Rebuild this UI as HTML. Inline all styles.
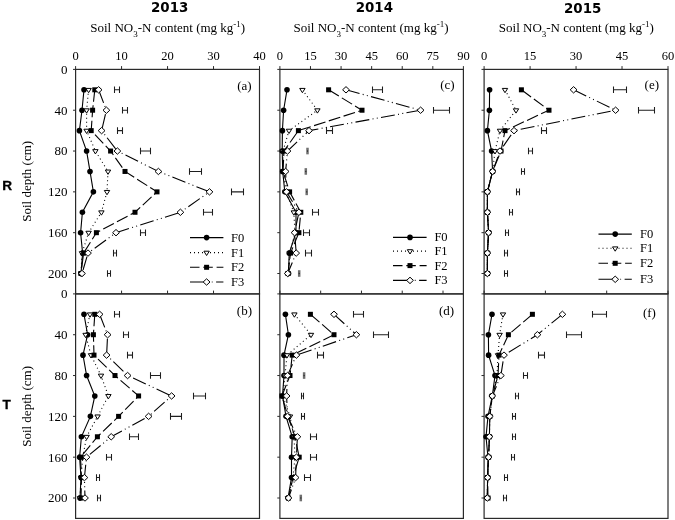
<!DOCTYPE html><html><head><meta charset="utf-8"><style>html,body{margin:0;padding:0;background:#fff;width:675px;height:520px;overflow:hidden}svg{display:block}</style></head><body>
<svg width="675" height="520" viewBox="0 0 675 520">
<rect width="675" height="520" fill="#fff"/>
<g><rect x="75.6" y="69.4" width="183.90" height="224.50" fill="none" stroke="#2a2a2a" stroke-width="1.2"/><line x1="75.60" y1="69.4" x2="75.60" y2="66.10" stroke="#2a2a2a" stroke-width="1"/><text x="75.60" y="60" font-family='"Liberation Serif", "Times New Roman", serif' font-size="12.5" text-anchor="middle">0</text><line x1="121.57" y1="69.4" x2="121.57" y2="66.10" stroke="#2a2a2a" stroke-width="1"/><text x="121.57" y="60" font-family='"Liberation Serif", "Times New Roman", serif' font-size="12.5" text-anchor="middle">10</text><line x1="167.55" y1="69.4" x2="167.55" y2="66.10" stroke="#2a2a2a" stroke-width="1"/><text x="167.55" y="60" font-family='"Liberation Serif", "Times New Roman", serif' font-size="12.5" text-anchor="middle">20</text><line x1="213.53" y1="69.4" x2="213.53" y2="66.10" stroke="#2a2a2a" stroke-width="1"/><text x="213.53" y="60" font-family='"Liberation Serif", "Times New Roman", serif' font-size="12.5" text-anchor="middle">30</text><line x1="259.50" y1="69.4" x2="259.50" y2="66.10" stroke="#2a2a2a" stroke-width="1"/><text x="259.50" y="60" font-family='"Liberation Serif", "Times New Roman", serif' font-size="12.5" text-anchor="middle">40</text><line x1="75.6" y1="69.40" x2="73.00" y2="69.40" stroke="#2a2a2a" stroke-width="1"/><text x="67.6" y="73.80" font-family='"Liberation Serif", "Times New Roman", serif' font-size="13" text-anchor="end">0</text><line x1="75.6" y1="110.22" x2="73.00" y2="110.22" stroke="#2a2a2a" stroke-width="1"/><text x="67.6" y="114.62" font-family='"Liberation Serif", "Times New Roman", serif' font-size="13" text-anchor="end">40</text><line x1="75.6" y1="151.04" x2="73.00" y2="151.04" stroke="#2a2a2a" stroke-width="1"/><text x="67.6" y="155.44" font-family='"Liberation Serif", "Times New Roman", serif' font-size="13" text-anchor="end">80</text><line x1="75.6" y1="191.86" x2="73.00" y2="191.86" stroke="#2a2a2a" stroke-width="1"/><text x="67.6" y="196.26" font-family='"Liberation Serif", "Times New Roman", serif' font-size="13" text-anchor="end">120</text><line x1="75.6" y1="232.68" x2="73.00" y2="232.68" stroke="#2a2a2a" stroke-width="1"/><text x="67.6" y="237.08" font-family='"Liberation Serif", "Times New Roman", serif' font-size="13" text-anchor="end">160</text><line x1="75.6" y1="273.50" x2="73.00" y2="273.50" stroke="#2a2a2a" stroke-width="1"/><text x="67.6" y="277.90" font-family='"Liberation Serif", "Times New Roman", serif' font-size="13" text-anchor="end">200</text><path d="M114.50,86.51V93.11M119.50,86.51V93.11M114.50,89.81H119.50" stroke="#1e1e1e" stroke-width="1.05" fill="none"/><path d="M122.50,106.92V113.52M127.50,106.92V113.52M122.50,110.22H127.50" stroke="#1e1e1e" stroke-width="1.05" fill="none"/><path d="M117.50,127.33V133.93M122.50,127.33V133.93M117.50,130.63H122.50" stroke="#1e1e1e" stroke-width="1.05" fill="none"/><path d="M140.50,147.74V154.34M150.50,147.74V154.34M140.50,151.04H150.50" stroke="#1e1e1e" stroke-width="1.05" fill="none"/><path d="M189.50,168.15V174.75M201.50,168.15V174.75M189.50,171.45H201.50" stroke="#1e1e1e" stroke-width="1.05" fill="none"/><path d="M231.50,188.56V195.16M243.50,188.56V195.16M231.50,191.86H243.50" stroke="#1e1e1e" stroke-width="1.05" fill="none"/><path d="M203.50,208.97V215.57M212.50,208.97V215.57M203.50,212.27H212.50" stroke="#1e1e1e" stroke-width="1.05" fill="none"/><path d="M140.50,229.38V235.98M145.50,229.38V235.98M140.50,232.68H145.50" stroke="#1e1e1e" stroke-width="1.05" fill="none"/><path d="M113.50,249.79V256.39M116.50,249.79V256.39M113.50,253.09H116.50" stroke="#1e1e1e" stroke-width="1.05" fill="none"/><path d="M107.50,270.20V276.80M110.50,270.20V276.80M107.50,273.50H110.50" stroke="#1e1e1e" stroke-width="1.05" fill="none"/><path d="M84.00,89.81 L82.00,110.22 L79.40,130.63 L86.60,151.04 L90.00,171.45 L93.40,191.86 L82.40,212.27 L80.60,232.68 L82.60,253.09 L81.00,273.50" fill="none" stroke="#000" stroke-width="1.1"/><circle cx="84.00" cy="89.81" r="2.8" fill="#000"/><circle cx="82.00" cy="110.22" r="2.8" fill="#000"/><circle cx="79.40" cy="130.63" r="2.8" fill="#000"/><circle cx="86.60" cy="151.04" r="2.8" fill="#000"/><circle cx="90.00" cy="171.45" r="2.8" fill="#000"/><circle cx="93.40" cy="191.86" r="2.8" fill="#000"/><circle cx="82.40" cy="212.27" r="2.8" fill="#000"/><circle cx="80.60" cy="232.68" r="2.8" fill="#000"/><circle cx="82.60" cy="253.09" r="2.8" fill="#000"/><circle cx="81.00" cy="273.50" r="2.8" fill="#000"/><path d="M88.60,89.81 L86.60,110.22 L86.60,130.63 L95.40,151.04 L108.00,171.45 L107.00,191.86 L101.40,212.27 L88.60,232.68 L82.00,253.09 L81.00,273.50" fill="none" stroke="#000" stroke-width="1.1" stroke-dasharray="1 3"/><path d="M85.90,88.41H91.30L88.60,92.71Z" fill="#fff" stroke="#000" stroke-width="1"/><path d="M83.90,108.82H89.30L86.60,113.12Z" fill="#fff" stroke="#000" stroke-width="1"/><path d="M83.90,129.23H89.30L86.60,133.53Z" fill="#fff" stroke="#000" stroke-width="1"/><path d="M92.70,149.64H98.10L95.40,153.94Z" fill="#fff" stroke="#000" stroke-width="1"/><path d="M105.30,170.05H110.70L108.00,174.35Z" fill="#fff" stroke="#000" stroke-width="1"/><path d="M104.30,190.46H109.70L107.00,194.76Z" fill="#fff" stroke="#000" stroke-width="1"/><path d="M98.70,210.87H104.10L101.40,215.17Z" fill="#fff" stroke="#000" stroke-width="1"/><path d="M85.90,231.28H91.30L88.60,235.58Z" fill="#fff" stroke="#000" stroke-width="1"/><path d="M79.30,251.69H84.70L82.00,255.99Z" fill="#fff" stroke="#000" stroke-width="1"/><path d="M78.30,272.10H83.70L81.00,276.40Z" fill="#fff" stroke="#000" stroke-width="1"/><path d="M94.80,89.81 L92.60,110.22 L91.20,130.63 L110.60,151.04 L125.00,171.45 L157.00,191.86 L135.00,212.27 L96.40,232.68 L83.60,253.09 L81.00,273.50" fill="none" stroke="#000" stroke-width="1.1" stroke-dasharray="12 3.5"/><rect x="92.30" y="87.31" width="5.0" height="5.0" fill="#000"/><rect x="90.10" y="107.72" width="5.0" height="5.0" fill="#000"/><rect x="88.70" y="128.13" width="5.0" height="5.0" fill="#000"/><rect x="108.10" y="148.54" width="5.0" height="5.0" fill="#000"/><rect x="122.50" y="168.95" width="5.0" height="5.0" fill="#000"/><rect x="154.50" y="189.36" width="5.0" height="5.0" fill="#000"/><rect x="132.50" y="209.77" width="5.0" height="5.0" fill="#000"/><rect x="93.90" y="230.18" width="5.0" height="5.0" fill="#000"/><rect x="81.10" y="250.59" width="5.0" height="5.0" fill="#000"/><rect x="78.50" y="271.00" width="5.0" height="5.0" fill="#000"/><path d="M98.60,89.81 L106.40,110.22 L101.60,130.63 L117.40,151.04 L158.40,171.45 L209.50,191.86 L180.40,212.27 L116.00,232.68 L88.00,253.09 L82.00,273.50" fill="none" stroke="#000" stroke-width="1.1" stroke-dasharray="14 3.3 1 3.3 1 3.3"/><path d="M98.60,86.61L102.00,89.81L98.60,93.01L95.20,89.81Z" fill="#fff" stroke="#000" stroke-width="1"/><path d="M106.40,107.02L109.80,110.22L106.40,113.42L103.00,110.22Z" fill="#fff" stroke="#000" stroke-width="1"/><path d="M101.60,127.43L105.00,130.63L101.60,133.83L98.20,130.63Z" fill="#fff" stroke="#000" stroke-width="1"/><path d="M117.40,147.84L120.80,151.04L117.40,154.24L114.00,151.04Z" fill="#fff" stroke="#000" stroke-width="1"/><path d="M158.40,168.25L161.80,171.45L158.40,174.65L155.00,171.45Z" fill="#fff" stroke="#000" stroke-width="1"/><path d="M209.50,188.66L212.90,191.86L209.50,195.06L206.10,191.86Z" fill="#fff" stroke="#000" stroke-width="1"/><path d="M180.40,209.07L183.80,212.27L180.40,215.47L177.00,212.27Z" fill="#fff" stroke="#000" stroke-width="1"/><path d="M116.00,229.48L119.40,232.68L116.00,235.88L112.60,232.68Z" fill="#fff" stroke="#000" stroke-width="1"/><path d="M88.00,249.89L91.40,253.09L88.00,256.29L84.60,253.09Z" fill="#fff" stroke="#000" stroke-width="1"/><path d="M82.00,270.30L85.40,273.50L82.00,276.70L78.60,273.50Z" fill="#fff" stroke="#000" stroke-width="1"/><text x="244.4" y="90" font-family='"Liberation Serif", "Times New Roman", serif' font-size="13" text-anchor="middle">(a)</text><line x1="190" y1="237.6" x2="223.4" y2="237.6" stroke="#000" stroke-width="1.1"/><circle cx="206.60" cy="237.60" r="2.8" fill="#000"/><text x="231" y="241.50" font-family='"Liberation Serif", "Times New Roman", serif' font-size="12.5">F0</text><line x1="190" y1="252.6" x2="223.4" y2="252.6" stroke="#000" stroke-width="1.1" stroke-dasharray="1 3"/><path d="M203.90,251.20H209.30L206.60,255.50Z" fill="#fff" stroke="#000" stroke-width="1"/><text x="231" y="256.50" font-family='"Liberation Serif", "Times New Roman", serif' font-size="12.5">F1</text><line x1="190" y1="267.3" x2="223.4" y2="267.3" stroke="#000" stroke-width="1.1" stroke-dasharray="9.5 3.8"/><rect x="204.10" y="264.80" width="5.0" height="5.0" fill="#000"/><text x="231" y="271.20" font-family='"Liberation Serif", "Times New Roman", serif' font-size="12.5">F2</text><line x1="190" y1="282" x2="223.4" y2="282" stroke="#000" stroke-width="1.1" stroke-dasharray="14 3.5 0.8 3.5 0.8 3.5"/><path d="M206.60,278.80L210.00,282.00L206.60,285.20L203.20,282.00Z" fill="#fff" stroke="#000" stroke-width="1"/><text x="231" y="285.90" font-family='"Liberation Serif", "Times New Roman", serif' font-size="12.5">F3</text></g>
<g><rect x="75.6" y="293.9" width="183.90" height="224.50" fill="none" stroke="#2a2a2a" stroke-width="1.2"/><line x1="75.60" y1="293.9" x2="75.60" y2="290.60" stroke="#2a2a2a" stroke-width="1"/><line x1="121.57" y1="293.9" x2="121.57" y2="290.60" stroke="#2a2a2a" stroke-width="1"/><line x1="167.55" y1="293.9" x2="167.55" y2="290.60" stroke="#2a2a2a" stroke-width="1"/><line x1="213.53" y1="293.9" x2="213.53" y2="290.60" stroke="#2a2a2a" stroke-width="1"/><line x1="259.50" y1="293.9" x2="259.50" y2="290.60" stroke="#2a2a2a" stroke-width="1"/><line x1="75.6" y1="293.90" x2="73.00" y2="293.90" stroke="#2a2a2a" stroke-width="1"/><text x="67.6" y="298.30" font-family='"Liberation Serif", "Times New Roman", serif' font-size="13" text-anchor="end">0</text><line x1="75.6" y1="334.72" x2="73.00" y2="334.72" stroke="#2a2a2a" stroke-width="1"/><text x="67.6" y="339.12" font-family='"Liberation Serif", "Times New Roman", serif' font-size="13" text-anchor="end">40</text><line x1="75.6" y1="375.54" x2="73.00" y2="375.54" stroke="#2a2a2a" stroke-width="1"/><text x="67.6" y="379.94" font-family='"Liberation Serif", "Times New Roman", serif' font-size="13" text-anchor="end">80</text><line x1="75.6" y1="416.36" x2="73.00" y2="416.36" stroke="#2a2a2a" stroke-width="1"/><text x="67.6" y="420.76" font-family='"Liberation Serif", "Times New Roman", serif' font-size="13" text-anchor="end">120</text><line x1="75.6" y1="457.18" x2="73.00" y2="457.18" stroke="#2a2a2a" stroke-width="1"/><text x="67.6" y="461.58" font-family='"Liberation Serif", "Times New Roman", serif' font-size="13" text-anchor="end">160</text><line x1="75.6" y1="498.00" x2="73.00" y2="498.00" stroke="#2a2a2a" stroke-width="1"/><text x="67.6" y="502.40" font-family='"Liberation Serif", "Times New Roman", serif' font-size="13" text-anchor="end">200</text><path d="M114.50,311.01V317.61M119.50,311.01V317.61M114.50,314.31H119.50" stroke="#1e1e1e" stroke-width="1.05" fill="none"/><path d="M123.50,331.42V338.02M128.50,331.42V338.02M123.50,334.72H128.50" stroke="#1e1e1e" stroke-width="1.05" fill="none"/><path d="M127.50,351.83V358.43M132.50,351.83V358.43M127.50,355.13H132.50" stroke="#1e1e1e" stroke-width="1.05" fill="none"/><path d="M150.50,372.24V378.84M160.50,372.24V378.84M150.50,375.54H160.50" stroke="#1e1e1e" stroke-width="1.05" fill="none"/><path d="M193.50,392.65V399.25M205.50,392.65V399.25M193.50,395.95H205.50" stroke="#1e1e1e" stroke-width="1.05" fill="none"/><path d="M170.50,413.06V419.66M181.50,413.06V419.66M170.50,416.36H181.50" stroke="#1e1e1e" stroke-width="1.05" fill="none"/><path d="M129.50,433.47V440.07M138.50,433.47V440.07M129.50,436.77H138.50" stroke="#1e1e1e" stroke-width="1.05" fill="none"/><path d="M106.50,453.88V460.48M111.50,453.88V460.48M106.50,457.18H111.50" stroke="#1e1e1e" stroke-width="1.05" fill="none"/><path d="M96.50,474.29V480.89M99.50,474.29V480.89M96.50,477.59H99.50" stroke="#1e1e1e" stroke-width="1.05" fill="none"/><path d="M97.50,494.70V501.30M100.50,494.70V501.30M97.50,498.00H100.50" stroke="#1e1e1e" stroke-width="1.05" fill="none"/><path d="M84.00,314.31 L87.60,334.72 L83.00,355.13 L86.60,375.54 L94.80,395.95 L90.40,416.36 L81.40,436.77 L79.60,457.18 L81.00,477.59 L80.00,498.00" fill="none" stroke="#000" stroke-width="1.1"/><circle cx="84.00" cy="314.31" r="2.8" fill="#000"/><circle cx="87.60" cy="334.72" r="2.8" fill="#000"/><circle cx="83.00" cy="355.13" r="2.8" fill="#000"/><circle cx="86.60" cy="375.54" r="2.8" fill="#000"/><circle cx="94.80" cy="395.95" r="2.8" fill="#000"/><circle cx="90.40" cy="416.36" r="2.8" fill="#000"/><circle cx="81.40" cy="436.77" r="2.8" fill="#000"/><circle cx="79.60" cy="457.18" r="2.8" fill="#000"/><circle cx="81.00" cy="477.59" r="2.8" fill="#000"/><circle cx="80.00" cy="498.00" r="2.8" fill="#000"/><path d="M90.00,314.31 L85.60,334.72 L91.00,355.13 L101.00,375.54 L108.40,395.95 L97.60,416.36 L86.60,436.77 L82.70,457.18 L81.00,477.59 L80.00,498.00" fill="none" stroke="#000" stroke-width="1.1" stroke-dasharray="1 3"/><path d="M87.30,312.91H92.70L90.00,317.21Z" fill="#fff" stroke="#000" stroke-width="1"/><path d="M82.90,333.32H88.30L85.60,337.62Z" fill="#fff" stroke="#000" stroke-width="1"/><path d="M88.30,353.73H93.70L91.00,358.03Z" fill="#fff" stroke="#000" stroke-width="1"/><path d="M98.30,374.14H103.70L101.00,378.44Z" fill="#fff" stroke="#000" stroke-width="1"/><path d="M105.70,394.55H111.10L108.40,398.85Z" fill="#fff" stroke="#000" stroke-width="1"/><path d="M94.90,414.96H100.30L97.60,419.26Z" fill="#fff" stroke="#000" stroke-width="1"/><path d="M83.90,435.37H89.30L86.60,439.67Z" fill="#fff" stroke="#000" stroke-width="1"/><path d="M80.00,455.78H85.40L82.70,460.08Z" fill="#fff" stroke="#000" stroke-width="1"/><path d="M78.30,476.19H83.70L81.00,480.49Z" fill="#fff" stroke="#000" stroke-width="1"/><path d="M77.30,496.60H82.70L80.00,500.90Z" fill="#fff" stroke="#000" stroke-width="1"/><path d="M94.80,314.31 L93.40,334.72 L94.00,355.13 L115.00,375.54 L138.60,395.95 L118.60,416.36 L97.40,436.77 L80.50,457.18 L81.50,477.59 L81.00,498.00" fill="none" stroke="#000" stroke-width="1.1" stroke-dasharray="12 3.5"/><rect x="92.30" y="311.81" width="5.0" height="5.0" fill="#000"/><rect x="90.90" y="332.22" width="5.0" height="5.0" fill="#000"/><rect x="91.50" y="352.63" width="5.0" height="5.0" fill="#000"/><rect x="112.50" y="373.04" width="5.0" height="5.0" fill="#000"/><rect x="136.10" y="393.45" width="5.0" height="5.0" fill="#000"/><rect x="116.10" y="413.86" width="5.0" height="5.0" fill="#000"/><rect x="94.90" y="434.27" width="5.0" height="5.0" fill="#000"/><rect x="78.00" y="454.68" width="5.0" height="5.0" fill="#000"/><rect x="79.00" y="475.09" width="5.0" height="5.0" fill="#000"/><rect x="78.50" y="495.50" width="5.0" height="5.0" fill="#000"/><path d="M99.60,314.31 L107.60,334.72 L106.60,355.13 L127.60,375.54 L171.60,395.95 L148.60,416.36 L111.20,436.77 L86.50,457.18 L84.40,477.59 L85.00,498.00" fill="none" stroke="#000" stroke-width="1.1" stroke-dasharray="14 3.3 1 3.3 1 3.3"/><path d="M99.60,311.11L103.00,314.31L99.60,317.51L96.20,314.31Z" fill="#fff" stroke="#000" stroke-width="1"/><path d="M107.60,331.52L111.00,334.72L107.60,337.92L104.20,334.72Z" fill="#fff" stroke="#000" stroke-width="1"/><path d="M106.60,351.93L110.00,355.13L106.60,358.33L103.20,355.13Z" fill="#fff" stroke="#000" stroke-width="1"/><path d="M127.60,372.34L131.00,375.54L127.60,378.74L124.20,375.54Z" fill="#fff" stroke="#000" stroke-width="1"/><path d="M171.60,392.75L175.00,395.95L171.60,399.15L168.20,395.95Z" fill="#fff" stroke="#000" stroke-width="1"/><path d="M148.60,413.16L152.00,416.36L148.60,419.56L145.20,416.36Z" fill="#fff" stroke="#000" stroke-width="1"/><path d="M111.20,433.57L114.60,436.77L111.20,439.97L107.80,436.77Z" fill="#fff" stroke="#000" stroke-width="1"/><path d="M86.50,453.98L89.90,457.18L86.50,460.38L83.10,457.18Z" fill="#fff" stroke="#000" stroke-width="1"/><path d="M84.40,474.39L87.80,477.59L84.40,480.79L81.00,477.59Z" fill="#fff" stroke="#000" stroke-width="1"/><path d="M85.00,494.80L88.40,498.00L85.00,501.20L81.60,498.00Z" fill="#fff" stroke="#000" stroke-width="1"/><text x="244.4" y="314.5" font-family='"Liberation Serif", "Times New Roman", serif' font-size="13" text-anchor="middle">(b)</text></g>
<g><rect x="279.9" y="69.4" width="183.50" height="224.50" fill="none" stroke="#2a2a2a" stroke-width="1.2"/><line x1="279.90" y1="69.4" x2="279.90" y2="66.10" stroke="#2a2a2a" stroke-width="1"/><text x="279.90" y="60" font-family='"Liberation Serif", "Times New Roman", serif' font-size="12.5" text-anchor="middle">0</text><line x1="310.48" y1="69.4" x2="310.48" y2="66.10" stroke="#2a2a2a" stroke-width="1"/><text x="310.48" y="60" font-family='"Liberation Serif", "Times New Roman", serif' font-size="12.5" text-anchor="middle">15</text><line x1="341.07" y1="69.4" x2="341.07" y2="66.10" stroke="#2a2a2a" stroke-width="1"/><text x="341.07" y="60" font-family='"Liberation Serif", "Times New Roman", serif' font-size="12.5" text-anchor="middle">30</text><line x1="371.65" y1="69.4" x2="371.65" y2="66.10" stroke="#2a2a2a" stroke-width="1"/><text x="371.65" y="60" font-family='"Liberation Serif", "Times New Roman", serif' font-size="12.5" text-anchor="middle">45</text><line x1="402.23" y1="69.4" x2="402.23" y2="66.10" stroke="#2a2a2a" stroke-width="1"/><text x="402.23" y="60" font-family='"Liberation Serif", "Times New Roman", serif' font-size="12.5" text-anchor="middle">60</text><line x1="432.82" y1="69.4" x2="432.82" y2="66.10" stroke="#2a2a2a" stroke-width="1"/><text x="432.82" y="60" font-family='"Liberation Serif", "Times New Roman", serif' font-size="12.5" text-anchor="middle">75</text><line x1="463.40" y1="69.4" x2="463.40" y2="66.10" stroke="#2a2a2a" stroke-width="1"/><text x="463.40" y="60" font-family='"Liberation Serif", "Times New Roman", serif' font-size="12.5" text-anchor="middle">90</text><line x1="279.9" y1="69.40" x2="277.30" y2="69.40" stroke="#2a2a2a" stroke-width="1"/><line x1="279.9" y1="110.22" x2="277.30" y2="110.22" stroke="#2a2a2a" stroke-width="1"/><line x1="279.9" y1="151.04" x2="277.30" y2="151.04" stroke="#2a2a2a" stroke-width="1"/><line x1="279.9" y1="191.86" x2="277.30" y2="191.86" stroke="#2a2a2a" stroke-width="1"/><line x1="279.9" y1="232.68" x2="277.30" y2="232.68" stroke="#2a2a2a" stroke-width="1"/><line x1="279.9" y1="273.50" x2="277.30" y2="273.50" stroke="#2a2a2a" stroke-width="1"/><path d="M372.50,86.51V93.11M382.50,86.51V93.11M372.50,89.81H382.50" stroke="#1e1e1e" stroke-width="1.05" fill="none"/><path d="M433.50,106.92V113.52M449.50,106.92V113.52M433.50,110.22H449.50" stroke="#1e1e1e" stroke-width="1.05" fill="none"/><path d="M326.50,127.33V133.93M332.50,127.33V133.93M326.50,130.63H332.50" stroke="#1e1e1e" stroke-width="1.05" fill="none"/><rect x="306.25" y="147.74" width="2.5" height="6.6" fill="#707070"/><rect x="307.00" y="150.44" width="1" height="1.2" fill="#222"/><rect x="304.55" y="168.15" width="2.5" height="6.6" fill="#707070"/><rect x="305.30" y="170.85" width="1" height="1.2" fill="#222"/><rect x="305.45" y="188.56" width="2.5" height="6.6" fill="#707070"/><rect x="306.20" y="191.26" width="1" height="1.2" fill="#222"/><path d="M312.50,208.97V215.57M318.50,208.97V215.57M312.50,212.27H318.50" stroke="#1e1e1e" stroke-width="1.05" fill="none"/><path d="M303.50,229.38V235.98M309.50,229.38V235.98M303.50,232.68H309.50" stroke="#1e1e1e" stroke-width="1.05" fill="none"/><path d="M305.50,249.79V256.39M311.50,249.79V256.39M305.50,253.09H311.50" stroke="#1e1e1e" stroke-width="1.05" fill="none"/><rect x="297.95" y="270.20" width="2.5" height="6.6" fill="#707070"/><rect x="298.70" y="272.90" width="1" height="1.2" fill="#222"/><path d="M287.00,89.81 L283.60,110.22 L282.40,130.63 L282.20,151.04 L282.70,171.45 L284.80,191.86 L296.00,212.27 L296.00,232.68 L289.20,253.09 L288.50,273.50" fill="none" stroke="#000" stroke-width="1.1"/><circle cx="287.00" cy="89.81" r="2.8" fill="#000"/><circle cx="283.60" cy="110.22" r="2.8" fill="#000"/><circle cx="282.40" cy="130.63" r="2.8" fill="#000"/><circle cx="282.20" cy="151.04" r="2.8" fill="#000"/><circle cx="282.70" cy="171.45" r="2.8" fill="#000"/><circle cx="284.80" cy="191.86" r="2.8" fill="#000"/><circle cx="296.00" cy="212.27" r="2.8" fill="#000"/><circle cx="296.00" cy="232.68" r="2.8" fill="#000"/><circle cx="289.20" cy="253.09" r="2.8" fill="#000"/><circle cx="288.50" cy="273.50" r="2.8" fill="#000"/><path d="M302.40,89.81 L317.40,110.22 L289.00,130.63 L283.00,151.04 L283.00,171.45 L286.00,191.86 L293.80,212.27 L295.00,232.68 L290.00,253.09 L288.00,273.50" fill="none" stroke="#000" stroke-width="1.1" stroke-dasharray="1 3"/><path d="M299.70,88.41H305.10L302.40,92.71Z" fill="#fff" stroke="#000" stroke-width="1"/><path d="M314.70,108.82H320.10L317.40,113.12Z" fill="#fff" stroke="#000" stroke-width="1"/><path d="M286.30,129.23H291.70L289.00,133.53Z" fill="#fff" stroke="#000" stroke-width="1"/><path d="M280.30,149.64H285.70L283.00,153.94Z" fill="#fff" stroke="#000" stroke-width="1"/><path d="M280.30,170.05H285.70L283.00,174.35Z" fill="#fff" stroke="#000" stroke-width="1"/><path d="M283.30,190.46H288.70L286.00,194.76Z" fill="#fff" stroke="#000" stroke-width="1"/><path d="M291.10,210.87H296.50L293.80,215.17Z" fill="#fff" stroke="#000" stroke-width="1"/><path d="M292.30,231.28H297.70L295.00,235.58Z" fill="#fff" stroke="#000" stroke-width="1"/><path d="M287.30,251.69H292.70L290.00,255.99Z" fill="#fff" stroke="#000" stroke-width="1"/><path d="M285.30,272.10H290.70L288.00,276.40Z" fill="#fff" stroke="#000" stroke-width="1"/><path d="M328.60,89.81 L362.00,110.22 L298.40,130.63 L284.00,151.04 L283.00,171.45 L289.60,191.86 L300.80,212.27 L298.90,232.68 L290.50,253.09 L288.00,273.50" fill="none" stroke="#000" stroke-width="1.1" stroke-dasharray="12 3.5"/><rect x="326.10" y="87.31" width="5.0" height="5.0" fill="#000"/><rect x="359.50" y="107.72" width="5.0" height="5.0" fill="#000"/><rect x="295.90" y="128.13" width="5.0" height="5.0" fill="#000"/><rect x="281.50" y="148.54" width="5.0" height="5.0" fill="#000"/><rect x="280.50" y="168.95" width="5.0" height="5.0" fill="#000"/><rect x="287.10" y="189.36" width="5.0" height="5.0" fill="#000"/><rect x="298.30" y="209.77" width="5.0" height="5.0" fill="#000"/><rect x="296.40" y="230.18" width="5.0" height="5.0" fill="#000"/><rect x="288.00" y="250.59" width="5.0" height="5.0" fill="#000"/><rect x="285.50" y="271.00" width="5.0" height="5.0" fill="#000"/><path d="M346.00,89.81 L420.60,110.22 L309.00,130.63 L287.50,151.04 L285.60,171.45 L286.50,191.86 L298.90,212.27 L294.60,232.68 L296.20,253.09 L287.70,273.50" fill="none" stroke="#000" stroke-width="1.1" stroke-dasharray="14 3.3 1 3.3 1 3.3"/><path d="M346.00,86.61L349.40,89.81L346.00,93.01L342.60,89.81Z" fill="#fff" stroke="#000" stroke-width="1"/><path d="M420.60,107.02L424.00,110.22L420.60,113.42L417.20,110.22Z" fill="#fff" stroke="#000" stroke-width="1"/><path d="M309.00,127.43L312.40,130.63L309.00,133.83L305.60,130.63Z" fill="#fff" stroke="#000" stroke-width="1"/><path d="M287.50,147.84L290.90,151.04L287.50,154.24L284.10,151.04Z" fill="#fff" stroke="#000" stroke-width="1"/><path d="M285.60,168.25L289.00,171.45L285.60,174.65L282.20,171.45Z" fill="#fff" stroke="#000" stroke-width="1"/><path d="M286.50,188.66L289.90,191.86L286.50,195.06L283.10,191.86Z" fill="#fff" stroke="#000" stroke-width="1"/><path d="M298.90,209.07L302.30,212.27L298.90,215.47L295.50,212.27Z" fill="#fff" stroke="#000" stroke-width="1"/><path d="M294.60,229.48L298.00,232.68L294.60,235.88L291.20,232.68Z" fill="#fff" stroke="#000" stroke-width="1"/><path d="M296.20,249.89L299.60,253.09L296.20,256.29L292.80,253.09Z" fill="#fff" stroke="#000" stroke-width="1"/><path d="M287.70,270.30L291.10,273.50L287.70,276.70L284.30,273.50Z" fill="#fff" stroke="#000" stroke-width="1"/><text x="447.4" y="88.9" font-family='"Liberation Serif", "Times New Roman", serif' font-size="13" text-anchor="middle">(c)</text><line x1="393" y1="237.4" x2="426.6" y2="237.4" stroke="#000" stroke-width="1.1"/><circle cx="410.00" cy="237.40" r="2.8" fill="#000"/><text x="434.4" y="241.30" font-family='"Liberation Serif", "Times New Roman", serif' font-size="12.5">F0</text><line x1="393" y1="251.1" x2="426.6" y2="251.1" stroke="#000" stroke-width="1.1" stroke-dasharray="1 3"/><path d="M407.30,249.70H412.70L410.00,254.00Z" fill="#fff" stroke="#000" stroke-width="1"/><text x="434.4" y="255.00" font-family='"Liberation Serif", "Times New Roman", serif' font-size="12.5">F1</text><line x1="393" y1="265.6" x2="426.6" y2="265.6" stroke="#000" stroke-width="1.1" stroke-dasharray="9.5 3.8"/><rect x="407.50" y="263.10" width="5.0" height="5.0" fill="#000"/><text x="434.4" y="269.50" font-family='"Liberation Serif", "Times New Roman", serif' font-size="12.5">F2</text><line x1="393" y1="280.4" x2="426.6" y2="280.4" stroke="#000" stroke-width="1.1" stroke-dasharray="14 3.5 0.8 3.5 0.8 3.5"/><path d="M410.00,277.20L413.40,280.40L410.00,283.60L406.60,280.40Z" fill="#fff" stroke="#000" stroke-width="1"/><text x="434.4" y="284.30" font-family='"Liberation Serif", "Times New Roman", serif' font-size="12.5">F3</text></g>
<g><rect x="279.9" y="293.9" width="183.50" height="224.50" fill="none" stroke="#2a2a2a" stroke-width="1.2"/><line x1="279.90" y1="293.9" x2="279.90" y2="290.60" stroke="#2a2a2a" stroke-width="1"/><line x1="320.68" y1="293.9" x2="320.68" y2="290.60" stroke="#2a2a2a" stroke-width="1"/><line x1="361.46" y1="293.9" x2="361.46" y2="290.60" stroke="#2a2a2a" stroke-width="1"/><line x1="402.23" y1="293.9" x2="402.23" y2="290.60" stroke="#2a2a2a" stroke-width="1"/><line x1="443.01" y1="293.9" x2="443.01" y2="290.60" stroke="#2a2a2a" stroke-width="1"/><line x1="279.9" y1="293.90" x2="277.30" y2="293.90" stroke="#2a2a2a" stroke-width="1"/><line x1="279.9" y1="334.72" x2="277.30" y2="334.72" stroke="#2a2a2a" stroke-width="1"/><line x1="279.9" y1="375.54" x2="277.30" y2="375.54" stroke="#2a2a2a" stroke-width="1"/><line x1="279.9" y1="416.36" x2="277.30" y2="416.36" stroke="#2a2a2a" stroke-width="1"/><line x1="279.9" y1="457.18" x2="277.30" y2="457.18" stroke="#2a2a2a" stroke-width="1"/><line x1="279.9" y1="498.00" x2="277.30" y2="498.00" stroke="#2a2a2a" stroke-width="1"/><path d="M353.50,311.01V317.61M363.50,311.01V317.61M353.50,314.31H363.50" stroke="#1e1e1e" stroke-width="1.05" fill="none"/><path d="M373.50,331.42V338.02M388.50,331.42V338.02M373.50,334.72H388.50" stroke="#1e1e1e" stroke-width="1.05" fill="none"/><path d="M317.50,351.83V358.43M323.50,351.83V358.43M317.50,355.13H323.50" stroke="#1e1e1e" stroke-width="1.05" fill="none"/><rect x="302.85" y="372.24" width="2.5" height="6.6" fill="#707070"/><rect x="303.60" y="374.94" width="1" height="1.2" fill="#222"/><path d="M301.50,392.65V399.25M303.50,392.65V399.25M301.50,395.95H303.50" stroke="#1e1e1e" stroke-width="1.05" fill="none"/><path d="M301.50,413.06V419.66M304.50,413.06V419.66M301.50,416.36H304.50" stroke="#1e1e1e" stroke-width="1.05" fill="none"/><path d="M310.50,433.47V440.07M316.50,433.47V440.07M310.50,436.77H316.50" stroke="#1e1e1e" stroke-width="1.05" fill="none"/><path d="M310.50,453.88V460.48M316.50,453.88V460.48M310.50,457.18H316.50" stroke="#1e1e1e" stroke-width="1.05" fill="none"/><path d="M304.50,474.29V480.89M310.50,474.29V480.89M304.50,477.59H310.50" stroke="#1e1e1e" stroke-width="1.05" fill="none"/><rect x="299.55" y="494.70" width="2.5" height="6.6" fill="#707070"/><rect x="300.30" y="497.40" width="1" height="1.2" fill="#222"/><path d="M285.40,314.31 L288.40,334.72 L284.00,355.13 L284.00,375.54 L282.50,395.95 L286.00,416.36 L292.20,436.77 L291.50,457.18 L291.50,477.59 L288.00,498.00" fill="none" stroke="#000" stroke-width="1.1"/><circle cx="285.40" cy="314.31" r="2.8" fill="#000"/><circle cx="288.40" cy="334.72" r="2.8" fill="#000"/><circle cx="284.00" cy="355.13" r="2.8" fill="#000"/><circle cx="284.00" cy="375.54" r="2.8" fill="#000"/><circle cx="282.50" cy="395.95" r="2.8" fill="#000"/><circle cx="286.00" cy="416.36" r="2.8" fill="#000"/><circle cx="292.20" cy="436.77" r="2.8" fill="#000"/><circle cx="291.50" cy="457.18" r="2.8" fill="#000"/><circle cx="291.50" cy="477.59" r="2.8" fill="#000"/><circle cx="288.00" cy="498.00" r="2.8" fill="#000"/><path d="M294.40,314.31 L311.00,334.72 L287.00,355.13 L285.00,375.54 L283.00,395.95 L290.00,416.36 L294.00,436.77 L295.00,457.18 L293.00,477.59 L288.00,498.00" fill="none" stroke="#000" stroke-width="1.1" stroke-dasharray="1 3"/><path d="M291.70,312.91H297.10L294.40,317.21Z" fill="#fff" stroke="#000" stroke-width="1"/><path d="M308.30,333.32H313.70L311.00,337.62Z" fill="#fff" stroke="#000" stroke-width="1"/><path d="M284.30,353.73H289.70L287.00,358.03Z" fill="#fff" stroke="#000" stroke-width="1"/><path d="M282.30,374.14H287.70L285.00,378.44Z" fill="#fff" stroke="#000" stroke-width="1"/><path d="M280.30,394.55H285.70L283.00,398.85Z" fill="#fff" stroke="#000" stroke-width="1"/><path d="M287.30,414.96H292.70L290.00,419.26Z" fill="#fff" stroke="#000" stroke-width="1"/><path d="M291.30,435.37H296.70L294.00,439.67Z" fill="#fff" stroke="#000" stroke-width="1"/><path d="M292.30,455.78H297.70L295.00,460.08Z" fill="#fff" stroke="#000" stroke-width="1"/><path d="M290.30,476.19H295.70L293.00,480.49Z" fill="#fff" stroke="#000" stroke-width="1"/><path d="M285.30,496.60H290.70L288.00,500.90Z" fill="#fff" stroke="#000" stroke-width="1"/><path d="M310.40,314.31 L334.00,334.72 L292.20,355.13 L290.00,375.54 L281.90,395.95 L288.00,416.36 L295.00,436.77 L299.20,457.18 L293.00,477.59 L288.50,498.00" fill="none" stroke="#000" stroke-width="1.1" stroke-dasharray="12 3.5"/><rect x="307.90" y="311.81" width="5.0" height="5.0" fill="#000"/><rect x="331.50" y="332.22" width="5.0" height="5.0" fill="#000"/><rect x="289.70" y="352.63" width="5.0" height="5.0" fill="#000"/><rect x="287.50" y="373.04" width="5.0" height="5.0" fill="#000"/><rect x="279.40" y="393.45" width="5.0" height="5.0" fill="#000"/><rect x="285.50" y="413.86" width="5.0" height="5.0" fill="#000"/><rect x="292.50" y="434.27" width="5.0" height="5.0" fill="#000"/><rect x="296.70" y="454.68" width="5.0" height="5.0" fill="#000"/><rect x="290.50" y="475.09" width="5.0" height="5.0" fill="#000"/><rect x="286.00" y="495.50" width="5.0" height="5.0" fill="#000"/><path d="M334.00,314.31 L356.40,334.72 L296.40,355.13 L287.50,375.54 L286.60,395.95 L287.50,416.36 L297.40,436.77 L296.40,457.18 L295.60,477.59 L288.50,498.00" fill="none" stroke="#000" stroke-width="1.1" stroke-dasharray="14 3.3 1 3.3 1 3.3"/><path d="M334.00,311.11L337.40,314.31L334.00,317.51L330.60,314.31Z" fill="#fff" stroke="#000" stroke-width="1"/><path d="M356.40,331.52L359.80,334.72L356.40,337.92L353.00,334.72Z" fill="#fff" stroke="#000" stroke-width="1"/><path d="M296.40,351.93L299.80,355.13L296.40,358.33L293.00,355.13Z" fill="#fff" stroke="#000" stroke-width="1"/><path d="M287.50,372.34L290.90,375.54L287.50,378.74L284.10,375.54Z" fill="#fff" stroke="#000" stroke-width="1"/><path d="M286.60,392.75L290.00,395.95L286.60,399.15L283.20,395.95Z" fill="#fff" stroke="#000" stroke-width="1"/><path d="M287.50,413.16L290.90,416.36L287.50,419.56L284.10,416.36Z" fill="#fff" stroke="#000" stroke-width="1"/><path d="M297.40,433.57L300.80,436.77L297.40,439.97L294.00,436.77Z" fill="#fff" stroke="#000" stroke-width="1"/><path d="M296.40,453.98L299.80,457.18L296.40,460.38L293.00,457.18Z" fill="#fff" stroke="#000" stroke-width="1"/><path d="M295.60,474.39L299.00,477.59L295.60,480.79L292.20,477.59Z" fill="#fff" stroke="#000" stroke-width="1"/><path d="M288.50,494.80L291.90,498.00L288.50,501.20L285.10,498.00Z" fill="#fff" stroke="#000" stroke-width="1"/><text x="446.6" y="314.5" font-family='"Liberation Serif", "Times New Roman", serif' font-size="13" text-anchor="middle">(d)</text></g>
<g><rect x="484.1" y="69.4" width="183.90" height="224.50" fill="none" stroke="#2a2a2a" stroke-width="1.2"/><line x1="484.10" y1="69.4" x2="484.10" y2="66.10" stroke="#2a2a2a" stroke-width="1"/><text x="484.10" y="60" font-family='"Liberation Serif", "Times New Roman", serif' font-size="12.5" text-anchor="middle">0</text><line x1="530.08" y1="69.4" x2="530.08" y2="66.10" stroke="#2a2a2a" stroke-width="1"/><text x="530.08" y="60" font-family='"Liberation Serif", "Times New Roman", serif' font-size="12.5" text-anchor="middle">15</text><line x1="576.05" y1="69.4" x2="576.05" y2="66.10" stroke="#2a2a2a" stroke-width="1"/><text x="576.05" y="60" font-family='"Liberation Serif", "Times New Roman", serif' font-size="12.5" text-anchor="middle">30</text><line x1="622.02" y1="69.4" x2="622.02" y2="66.10" stroke="#2a2a2a" stroke-width="1"/><text x="622.02" y="60" font-family='"Liberation Serif", "Times New Roman", serif' font-size="12.5" text-anchor="middle">45</text><line x1="668.00" y1="69.4" x2="668.00" y2="66.10" stroke="#2a2a2a" stroke-width="1"/><text x="668.00" y="60" font-family='"Liberation Serif", "Times New Roman", serif' font-size="12.5" text-anchor="middle">60</text><line x1="484.1" y1="69.40" x2="481.50" y2="69.40" stroke="#2a2a2a" stroke-width="1"/><line x1="484.1" y1="110.22" x2="481.50" y2="110.22" stroke="#2a2a2a" stroke-width="1"/><line x1="484.1" y1="151.04" x2="481.50" y2="151.04" stroke="#2a2a2a" stroke-width="1"/><line x1="484.1" y1="191.86" x2="481.50" y2="191.86" stroke="#2a2a2a" stroke-width="1"/><line x1="484.1" y1="232.68" x2="481.50" y2="232.68" stroke="#2a2a2a" stroke-width="1"/><line x1="484.1" y1="273.50" x2="481.50" y2="273.50" stroke="#2a2a2a" stroke-width="1"/><path d="M613.50,86.51V93.11M626.50,86.51V93.11M613.50,89.81H626.50" stroke="#1e1e1e" stroke-width="1.05" fill="none"/><path d="M638.50,106.92V113.52M654.50,106.92V113.52M638.50,110.22H654.50" stroke="#1e1e1e" stroke-width="1.05" fill="none"/><path d="M541.50,127.33V133.93M546.50,127.33V133.93M541.50,130.63H546.50" stroke="#1e1e1e" stroke-width="1.05" fill="none"/><path d="M528.50,147.74V154.34M532.50,147.74V154.34M528.50,151.04H532.50" stroke="#1e1e1e" stroke-width="1.05" fill="none"/><path d="M521.50,168.15V174.75M524.50,168.15V174.75M521.50,171.45H524.50" stroke="#1e1e1e" stroke-width="1.05" fill="none"/><path d="M516.50,188.56V195.16M519.50,188.56V195.16M516.50,191.86H519.50" stroke="#1e1e1e" stroke-width="1.05" fill="none"/><path d="M509.50,208.97V215.57M512.50,208.97V215.57M509.50,212.27H512.50" stroke="#1e1e1e" stroke-width="1.05" fill="none"/><path d="M505.50,229.38V235.98M508.50,229.38V235.98M505.50,232.68H508.50" stroke="#1e1e1e" stroke-width="1.05" fill="none"/><path d="M504.50,249.79V256.39M507.50,249.79V256.39M504.50,253.09H507.50" stroke="#1e1e1e" stroke-width="1.05" fill="none"/><path d="M504.50,270.20V276.80M507.50,270.20V276.80M504.50,273.50H507.50" stroke="#1e1e1e" stroke-width="1.05" fill="none"/><path d="M489.60,89.81 L489.40,110.22 L487.40,130.63 L491.60,151.04 L492.60,171.45 L487.40,191.86 L487.40,212.27 L488.60,232.68 L487.40,253.09 L487.40,273.50" fill="none" stroke="#000" stroke-width="1.1"/><circle cx="489.60" cy="89.81" r="2.8" fill="#000"/><circle cx="489.40" cy="110.22" r="2.8" fill="#000"/><circle cx="487.40" cy="130.63" r="2.8" fill="#000"/><circle cx="491.60" cy="151.04" r="2.8" fill="#000"/><circle cx="492.60" cy="171.45" r="2.8" fill="#000"/><circle cx="487.40" cy="191.86" r="2.8" fill="#000"/><circle cx="487.40" cy="212.27" r="2.8" fill="#000"/><circle cx="488.60" cy="232.68" r="2.8" fill="#000"/><circle cx="487.40" cy="253.09" r="2.8" fill="#000"/><circle cx="487.40" cy="273.50" r="2.8" fill="#000"/><path d="M505.00,89.81 L516.00,110.22 L500.00,130.63 L495.00,151.04 L492.60,171.45 L487.40,191.86 L487.40,212.27 L488.60,232.68 L487.40,253.09 L487.40,273.50" fill="none" stroke="#000" stroke-width="1.1" stroke-dasharray="1 3"/><path d="M502.30,88.41H507.70L505.00,92.71Z" fill="#fff" stroke="#000" stroke-width="1"/><path d="M513.30,108.82H518.70L516.00,113.12Z" fill="#fff" stroke="#000" stroke-width="1"/><path d="M497.30,129.23H502.70L500.00,133.53Z" fill="#fff" stroke="#000" stroke-width="1"/><path d="M492.30,149.64H497.70L495.00,153.94Z" fill="#fff" stroke="#000" stroke-width="1"/><path d="M489.90,170.05H495.30L492.60,174.35Z" fill="#fff" stroke="#000" stroke-width="1"/><path d="M484.70,190.46H490.10L487.40,194.76Z" fill="#fff" stroke="#000" stroke-width="1"/><path d="M484.70,210.87H490.10L487.40,215.17Z" fill="#fff" stroke="#000" stroke-width="1"/><path d="M485.90,231.28H491.30L488.60,235.58Z" fill="#fff" stroke="#000" stroke-width="1"/><path d="M484.70,251.69H490.10L487.40,255.99Z" fill="#fff" stroke="#000" stroke-width="1"/><path d="M484.70,272.10H490.10L487.40,276.40Z" fill="#fff" stroke="#000" stroke-width="1"/><path d="M521.40,89.81 L549.00,110.22 L505.00,130.63 L501.00,151.04 L492.60,171.45 L487.40,191.86 L487.40,212.27 L488.60,232.68 L487.40,253.09 L487.40,273.50" fill="none" stroke="#000" stroke-width="1.1" stroke-dasharray="12 3.5"/><rect x="518.90" y="87.31" width="5.0" height="5.0" fill="#000"/><rect x="546.50" y="107.72" width="5.0" height="5.0" fill="#000"/><rect x="502.50" y="128.13" width="5.0" height="5.0" fill="#000"/><rect x="498.50" y="148.54" width="5.0" height="5.0" fill="#000"/><rect x="490.10" y="168.95" width="5.0" height="5.0" fill="#000"/><rect x="484.90" y="189.36" width="5.0" height="5.0" fill="#000"/><rect x="484.90" y="209.77" width="5.0" height="5.0" fill="#000"/><rect x="486.10" y="230.18" width="5.0" height="5.0" fill="#000"/><rect x="484.90" y="250.59" width="5.0" height="5.0" fill="#000"/><rect x="484.90" y="271.00" width="5.0" height="5.0" fill="#000"/><path d="M573.60,89.81 L615.60,110.22 L514.00,130.63 L500.00,151.04 L492.60,171.45 L487.40,191.86 L487.40,212.27 L488.60,232.68 L487.40,253.09 L487.40,273.50" fill="none" stroke="#000" stroke-width="1.1" stroke-dasharray="14 3.3 1 3.3 1 3.3"/><path d="M573.60,86.61L577.00,89.81L573.60,93.01L570.20,89.81Z" fill="#fff" stroke="#000" stroke-width="1"/><path d="M615.60,107.02L619.00,110.22L615.60,113.42L612.20,110.22Z" fill="#fff" stroke="#000" stroke-width="1"/><path d="M514.00,127.43L517.40,130.63L514.00,133.83L510.60,130.63Z" fill="#fff" stroke="#000" stroke-width="1"/><path d="M500.00,147.84L503.40,151.04L500.00,154.24L496.60,151.04Z" fill="#fff" stroke="#000" stroke-width="1"/><path d="M492.60,168.25L496.00,171.45L492.60,174.65L489.20,171.45Z" fill="#fff" stroke="#000" stroke-width="1"/><path d="M487.40,188.66L490.80,191.86L487.40,195.06L484.00,191.86Z" fill="#fff" stroke="#000" stroke-width="1"/><path d="M487.40,209.07L490.80,212.27L487.40,215.47L484.00,212.27Z" fill="#fff" stroke="#000" stroke-width="1"/><path d="M488.60,229.48L492.00,232.68L488.60,235.88L485.20,232.68Z" fill="#fff" stroke="#000" stroke-width="1"/><path d="M487.40,249.89L490.80,253.09L487.40,256.29L484.00,253.09Z" fill="#fff" stroke="#000" stroke-width="1"/><path d="M487.40,270.30L490.80,273.50L487.40,276.70L484.00,273.50Z" fill="#fff" stroke="#000" stroke-width="1"/><text x="651.8" y="88.9" font-family='"Liberation Serif", "Times New Roman", serif' font-size="13" text-anchor="middle">(e)</text><line x1="598.5" y1="234.1" x2="631.8" y2="234.1" stroke="#000" stroke-width="1.1"/><circle cx="615.20" cy="234.10" r="2.8" fill="#000"/><text x="640.1" y="238.00" font-family='"Liberation Serif", "Times New Roman", serif' font-size="12.5">F0</text><line x1="598.5" y1="248.3" x2="631.8" y2="248.3" stroke="#000" stroke-width="1.1" stroke-dasharray="1 3"/><path d="M612.50,246.90H617.90L615.20,251.20Z" fill="#fff" stroke="#000" stroke-width="1"/><text x="640.1" y="252.20" font-family='"Liberation Serif", "Times New Roman", serif' font-size="12.5">F1</text><line x1="598.5" y1="263.3" x2="631.8" y2="263.3" stroke="#000" stroke-width="1.1" stroke-dasharray="9.5 3.8"/><rect x="612.70" y="260.80" width="5.0" height="5.0" fill="#000"/><text x="640.1" y="267.20" font-family='"Liberation Serif", "Times New Roman", serif' font-size="12.5">F2</text><line x1="598.5" y1="279.3" x2="631.8" y2="279.3" stroke="#000" stroke-width="1.1" stroke-dasharray="14 3.5 0.8 3.5 0.8 3.5"/><path d="M615.20,276.10L618.60,279.30L615.20,282.50L611.80,279.30Z" fill="#fff" stroke="#000" stroke-width="1"/><text x="640.1" y="283.20" font-family='"Liberation Serif", "Times New Roman", serif' font-size="12.5">F3</text></g>
<g><rect x="484.1" y="293.9" width="183.90" height="224.50" fill="none" stroke="#2a2a2a" stroke-width="1.2"/><line x1="484.10" y1="293.9" x2="484.10" y2="290.60" stroke="#2a2a2a" stroke-width="1"/><line x1="545.40" y1="293.9" x2="545.40" y2="290.60" stroke="#2a2a2a" stroke-width="1"/><line x1="606.70" y1="293.9" x2="606.70" y2="290.60" stroke="#2a2a2a" stroke-width="1"/><line x1="668.00" y1="293.9" x2="668.00" y2="290.60" stroke="#2a2a2a" stroke-width="1"/><line x1="484.1" y1="293.90" x2="481.50" y2="293.90" stroke="#2a2a2a" stroke-width="1"/><line x1="484.1" y1="334.72" x2="481.50" y2="334.72" stroke="#2a2a2a" stroke-width="1"/><line x1="484.1" y1="375.54" x2="481.50" y2="375.54" stroke="#2a2a2a" stroke-width="1"/><line x1="484.1" y1="416.36" x2="481.50" y2="416.36" stroke="#2a2a2a" stroke-width="1"/><line x1="484.1" y1="457.18" x2="481.50" y2="457.18" stroke="#2a2a2a" stroke-width="1"/><line x1="484.1" y1="498.00" x2="481.50" y2="498.00" stroke="#2a2a2a" stroke-width="1"/><path d="M592.50,311.01V317.61M606.50,311.01V317.61M592.50,314.31H606.50" stroke="#1e1e1e" stroke-width="1.05" fill="none"/><path d="M566.50,331.42V338.02M581.50,331.42V338.02M566.50,334.72H581.50" stroke="#1e1e1e" stroke-width="1.05" fill="none"/><path d="M538.50,351.83V358.43M544.50,351.83V358.43M538.50,355.13H544.50" stroke="#1e1e1e" stroke-width="1.05" fill="none"/><path d="M523.50,372.24V378.84M527.50,372.24V378.84M523.50,375.54H527.50" stroke="#1e1e1e" stroke-width="1.05" fill="none"/><path d="M515.50,392.65V399.25M518.50,392.65V399.25M515.50,395.95H518.50" stroke="#1e1e1e" stroke-width="1.05" fill="none"/><path d="M512.50,413.06V419.66M515.50,413.06V419.66M512.50,416.36H515.50" stroke="#1e1e1e" stroke-width="1.05" fill="none"/><path d="M512.50,433.47V440.07M515.50,433.47V440.07M512.50,436.77H515.50" stroke="#1e1e1e" stroke-width="1.05" fill="none"/><path d="M511.50,453.88V460.48M514.50,453.88V460.48M511.50,457.18H514.50" stroke="#1e1e1e" stroke-width="1.05" fill="none"/><path d="M504.50,474.29V480.89M507.50,474.29V480.89M504.50,477.59H507.50" stroke="#1e1e1e" stroke-width="1.05" fill="none"/><path d="M503.50,494.70V501.30M506.50,494.70V501.30M503.50,498.00H506.50" stroke="#1e1e1e" stroke-width="1.05" fill="none"/><path d="M492.00,314.31 L488.40,334.72 L488.60,355.13 L495.00,375.54 L492.30,395.95 L488.00,416.36 L486.00,436.77 L488.00,457.18 L487.60,477.59 L487.30,498.00" fill="none" stroke="#000" stroke-width="1.1"/><circle cx="492.00" cy="314.31" r="2.8" fill="#000"/><circle cx="488.40" cy="334.72" r="2.8" fill="#000"/><circle cx="488.60" cy="355.13" r="2.8" fill="#000"/><circle cx="495.00" cy="375.54" r="2.8" fill="#000"/><circle cx="492.30" cy="395.95" r="2.8" fill="#000"/><circle cx="488.00" cy="416.36" r="2.8" fill="#000"/><circle cx="486.00" cy="436.77" r="2.8" fill="#000"/><circle cx="488.00" cy="457.18" r="2.8" fill="#000"/><circle cx="487.60" cy="477.59" r="2.8" fill="#000"/><circle cx="487.30" cy="498.00" r="2.8" fill="#000"/><path d="M503.00,314.31 L499.60,334.72 L498.00,355.13 L497.00,375.54 L492.30,395.95 L489.80,416.36 L489.40,436.77 L488.60,457.18 L487.60,477.59 L487.30,498.00" fill="none" stroke="#000" stroke-width="1.1" stroke-dasharray="1 3"/><path d="M500.30,312.91H505.70L503.00,317.21Z" fill="#fff" stroke="#000" stroke-width="1"/><path d="M496.90,333.32H502.30L499.60,337.62Z" fill="#fff" stroke="#000" stroke-width="1"/><path d="M495.30,353.73H500.70L498.00,358.03Z" fill="#fff" stroke="#000" stroke-width="1"/><path d="M494.30,374.14H499.70L497.00,378.44Z" fill="#fff" stroke="#000" stroke-width="1"/><path d="M489.60,394.55H495.00L492.30,398.85Z" fill="#fff" stroke="#000" stroke-width="1"/><path d="M487.10,414.96H492.50L489.80,419.26Z" fill="#fff" stroke="#000" stroke-width="1"/><path d="M486.70,435.37H492.10L489.40,439.67Z" fill="#fff" stroke="#000" stroke-width="1"/><path d="M485.90,455.78H491.30L488.60,460.08Z" fill="#fff" stroke="#000" stroke-width="1"/><path d="M484.90,476.19H490.30L487.60,480.49Z" fill="#fff" stroke="#000" stroke-width="1"/><path d="M484.60,496.60H490.00L487.30,500.90Z" fill="#fff" stroke="#000" stroke-width="1"/><path d="M532.40,314.31 L508.40,334.72 L499.00,355.13 L498.00,375.54 L492.30,395.95 L489.80,416.36 L489.40,436.77 L488.60,457.18 L487.60,477.59 L488.00,498.00" fill="none" stroke="#000" stroke-width="1.1" stroke-dasharray="12 3.5"/><rect x="529.90" y="311.81" width="5.0" height="5.0" fill="#000"/><rect x="505.90" y="332.22" width="5.0" height="5.0" fill="#000"/><rect x="496.50" y="352.63" width="5.0" height="5.0" fill="#000"/><rect x="495.50" y="373.04" width="5.0" height="5.0" fill="#000"/><rect x="489.80" y="393.45" width="5.0" height="5.0" fill="#000"/><rect x="487.30" y="413.86" width="5.0" height="5.0" fill="#000"/><rect x="486.90" y="434.27" width="5.0" height="5.0" fill="#000"/><rect x="486.10" y="454.68" width="5.0" height="5.0" fill="#000"/><rect x="485.10" y="475.09" width="5.0" height="5.0" fill="#000"/><rect x="485.50" y="495.50" width="5.0" height="5.0" fill="#000"/><path d="M562.40,314.31 L537.40,334.72 L504.00,355.13 L500.90,375.54 L492.30,395.95 L489.80,416.36 L489.40,436.77 L488.60,457.18 L487.60,477.59 L487.30,498.00" fill="none" stroke="#000" stroke-width="1.1" stroke-dasharray="14 3.3 1 3.3 1 3.3"/><path d="M562.40,311.11L565.80,314.31L562.40,317.51L559.00,314.31Z" fill="#fff" stroke="#000" stroke-width="1"/><path d="M537.40,331.52L540.80,334.72L537.40,337.92L534.00,334.72Z" fill="#fff" stroke="#000" stroke-width="1"/><path d="M504.00,351.93L507.40,355.13L504.00,358.33L500.60,355.13Z" fill="#fff" stroke="#000" stroke-width="1"/><path d="M500.90,372.34L504.30,375.54L500.90,378.74L497.50,375.54Z" fill="#fff" stroke="#000" stroke-width="1"/><path d="M492.30,392.75L495.70,395.95L492.30,399.15L488.90,395.95Z" fill="#fff" stroke="#000" stroke-width="1"/><path d="M489.80,413.16L493.20,416.36L489.80,419.56L486.40,416.36Z" fill="#fff" stroke="#000" stroke-width="1"/><path d="M489.40,433.57L492.80,436.77L489.40,439.97L486.00,436.77Z" fill="#fff" stroke="#000" stroke-width="1"/><path d="M488.60,453.98L492.00,457.18L488.60,460.38L485.20,457.18Z" fill="#fff" stroke="#000" stroke-width="1"/><path d="M487.60,474.39L491.00,477.59L487.60,480.79L484.20,477.59Z" fill="#fff" stroke="#000" stroke-width="1"/><path d="M487.30,494.80L490.70,498.00L487.30,501.20L483.90,498.00Z" fill="#fff" stroke="#000" stroke-width="1"/><text x="649.4" y="316.7" font-family='"Liberation Serif", "Times New Roman", serif' font-size="13" text-anchor="middle">(f)</text></g>
<text transform="translate(169.7,11.9) scale(0.92,1)" font-family='"DejaVu Sans", "Liberation Sans", sans-serif' font-weight="bold" font-size="14.6" text-anchor="middle">2013</text>
<text transform="translate(374.3,11.9) scale(0.92,1)" font-family='"DejaVu Sans", "Liberation Sans", sans-serif' font-weight="bold" font-size="14.6" text-anchor="middle">2014</text>
<text transform="translate(582.7,13.0) scale(0.92,1)" font-family='"DejaVu Sans", "Liberation Sans", sans-serif' font-weight="bold" font-size="14.6" text-anchor="middle">2015</text>
<text x="167.7" y="31.6" font-family='"Liberation Serif", "Times New Roman", serif' font-size="13" text-anchor="middle">Soil NO<tspan font-size="9" dy="5">3</tspan><tspan dy="-5">-N content (mg kg</tspan><tspan font-size="9" dy="-5">-1</tspan><tspan dy="5">)</tspan></text>
<text x="371" y="31.6" font-family='"Liberation Serif", "Times New Roman", serif' font-size="13" text-anchor="middle">Soil NO<tspan font-size="9" dy="5">3</tspan><tspan dy="-5">-N content (mg kg</tspan><tspan font-size="9" dy="-5">-1</tspan><tspan dy="5">)</tspan></text>
<text x="576.3" y="31.6" font-family='"Liberation Serif", "Times New Roman", serif' font-size="13" text-anchor="middle">Soil NO<tspan font-size="9" dy="5">3</tspan><tspan dy="-5">-N content (mg kg</tspan><tspan font-size="9" dy="-5">-1</tspan><tspan dy="5">)</tspan></text>
<text x="2.2" y="190.2" font-family='"Liberation Sans", Arial, sans-serif' font-weight="bold" font-size="13.6" stroke="#000" stroke-width="0.3">R</text>
<text x="2.4" y="408.8" font-family='"Liberation Sans", Arial, sans-serif' font-weight="bold" font-size="13.6" stroke="#000" stroke-width="0.3">T</text>
<text x="0" y="0" transform="translate(30.8,181.3) rotate(-90)" font-family='"Liberation Serif", "Times New Roman", serif' font-size="13" text-anchor="middle">Soil depth (cm)</text>
<text x="0" y="0" transform="translate(30.8,406.4) rotate(-90)" font-family='"Liberation Serif", "Times New Roman", serif' font-size="13" text-anchor="middle">Soil depth (cm)</text>
</svg></body></html>
